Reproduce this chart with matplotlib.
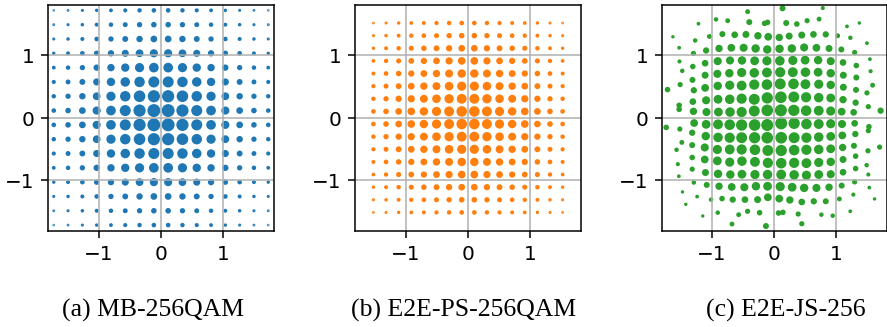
import numpy as np
import matplotlib
matplotlib.use('Agg')  # no GUI window
import matplotlib.pyplot as plt

# (a) MB-256QAM: 16 amplitude levels per axis, dot weight per level
mb_levels = [-1.7175, -1.4885, -1.2595, -1.0305, -0.8015, -0.5725, -0.3435, -0.1145,
             0.1145, 0.3435, 0.5725, 0.8015, 1.0305, 1.2595, 1.4885, 1.7175]
mb_weight = [0.06, 0.11, 0.19, 0.32, 0.50, 0.69, 0.88, 1.0,
             1.0, 0.88, 0.69, 0.50, 0.32, 0.19, 0.11, 0.06]

# (b) E2E-PS-256QAM
ps_levels = [-1.515, -1.313, -1.111, -0.909, -0.707, -0.505, -0.303, -0.101,
             0.101, 0.303, 0.505, 0.707, 0.909, 1.111, 1.313, 1.515]
ps_weight = [0.10, 0.18, 0.30, 0.44, 0.57, 0.70, 0.85, 1.0,
             1.0, 0.85, 0.70, 0.57, 0.44, 0.30, 0.18, 0.10]

# (c) E2E-JS-256: learned points (x, y) and dot size, quadrant by quadrant, row by row
js_x = [
    # upper left
    -1.300, -1.090, -0.898, -0.711, -0.524, -0.321, -0.112,
    -1.530, -1.530, -1.310, -1.096, -0.904, -0.716, -0.524, -0.321, -0.112,
    -1.717, -1.514, -1.294, -1.112, -0.909, -0.716, -0.524, -0.321, -0.117,
    -1.480, -1.316, -1.112, -0.915, -0.722, -0.524, -0.321, -0.117,
    -1.525, -1.310, -1.112, -0.909, -0.711, -0.519, -0.315, -0.117,
    -1.530, -1.300, -1.096, -0.888, -0.690, -0.492, -0.299, -0.112,
    -1.631, -1.272, -1.043, -0.834, -0.636, -0.455, -0.262, -0.096,
    -1.219, -0.936, -0.749, -0.401, -0.155, -0.107,
    -0.428,
    # upper right
    0.108, 0.316, 0.514, 0.717, 0.910, 1.086, 1.279, 1.713,
    0.108, 0.316, 0.514, 0.717, 0.910, 1.108, 1.311, 1.515,
    0.097, 0.311, 0.503, 0.717, 0.910, 1.113, 1.317, 1.493,
    0.097, 0.300, 0.503, 0.707, 0.910, 1.113, 1.322, 1.584,
    0.091, 0.300, 0.498, 0.707, 0.910, 1.108, 1.322, 1.552,
    0.086, 0.284, 0.482, 0.680, 0.883, 1.081, 1.295, 1.541,
    0.081, 0.241, 0.444, 0.632, 0.830, 1.022, 1.226, 1.493,
    0.193, 0.364, 0.530, 0.723, 1.172, 1.370,
    0.134, 0.782,
    # lower left
    -1.738, -1.519, -1.289, -1.096, -0.904, -0.716, -0.524, -0.315, -0.112,
    -1.487, -1.320, -1.102, -0.904, -0.716, -0.524, -0.315, -0.112,
    -1.572, -1.320, -1.118, -0.915, -0.716, -0.524, -0.310, -0.102,
    -1.551, -1.320, -1.118, -0.915, -0.716, -0.519, -0.310, -0.102,
    -1.535, -1.320, -1.107, -0.904, -0.706, -0.519, -0.310, -0.107,
    -1.476, -1.294, -1.086, -0.888, -0.684, -0.481, -0.294, -0.107,
    -1.423, -1.241, -1.016, -0.840, -0.668, -0.471, -0.267, -0.102,
    -1.150, -0.909, -0.572, -0.428, -0.235,
    -0.679, -0.133,
    # lower right
    0.113, 0.321, 0.519, 0.717, 0.910, 1.092, 1.295, 1.525, 1.515,
    0.113, 0.321, 0.519, 0.717, 0.910, 1.097, 1.306,
    0.113, 0.321, 0.519, 0.717, 0.910, 1.102, 1.284, 1.509, 1.697,
    0.113, 0.321, 0.519, 0.717, 0.910, 1.108, 1.311, 1.488,
    0.113, 0.321, 0.519, 0.717, 0.910, 1.108, 1.311, 1.515,
    0.097, 0.289, 0.482, 0.680, 0.883, 1.086, 1.295, 1.531,
    0.081, 0.252, 0.444, 0.637, 0.830, 1.049, 1.274, 1.616,
    0.070, 0.140, 0.386, 0.760, 0.942, 1.225,
    0.444,
]
js_y = [
    # upper left
    0.102, 0.091, 0.091, 0.091, 0.091, 0.107, 0.118,
    0.198, 0.134, 0.257, 0.279, 0.295, 0.295, 0.305, 0.295, 0.317,
    0.450, 0.530, 0.439, 0.477, 0.509, 0.520, 0.514, 0.530, 0.530,
    0.750, 0.605, 0.680, 0.702, 0.712, 0.723, 0.718, 0.723,
    0.900, 0.819, 0.872, 0.905, 0.916, 0.916, 0.910, 0.910,
    1.119, 1.028, 1.076, 1.108, 1.119, 1.119, 1.108, 1.092,
    1.295, 1.236, 1.300, 1.338, 1.327, 1.332, 1.311, 1.295,
    1.504, 1.573, 1.552, 1.530, 1.509, 1.525,
    1.697,
    # upper right
    0.118, 0.118, 0.113, 0.113, 0.107, 0.097, 0.086, 0.113,
    0.327, 0.332, 0.327, 0.321, 0.316, 0.289, 0.241, 0.177,
    0.541, 0.541, 0.536, 0.536, 0.525, 0.488, 0.445, 0.397,
    0.728, 0.728, 0.728, 0.728, 0.712, 0.680, 0.643, 0.520,
    0.910, 0.916, 0.921, 0.921, 0.905, 0.884, 0.835, 0.744,
    1.103, 1.108, 1.124, 1.119, 1.108, 1.092, 1.044, 0.937,
    1.284, 1.306, 1.322, 1.333, 1.333, 1.311, 1.279, 1.193,
    1.515, 1.499, 1.552, 1.578, 1.461, 1.515,
    1.750, 1.755,
    # lower left
    -0.155, -0.181, -0.085, -0.106, -0.106, -0.112, -0.117, -0.117, -0.117,
    -0.395, -0.240, -0.294, -0.315, -0.320, -0.320, -0.320, -0.320,
    -0.513, -0.438, -0.476, -0.508, -0.508, -0.508, -0.513, -0.524,
    -0.743, -0.636, -0.668, -0.690, -0.711, -0.695, -0.706, -0.722,
    -0.936, -0.823, -0.877, -0.898, -0.909, -0.904, -0.909, -0.909,
    -1.187, -1.037, -1.075, -1.096, -1.107, -1.112, -1.096, -1.096,
    -1.385, -1.262, -1.310, -1.294, -1.310, -1.310, -1.310, -1.273,
    -1.572, -1.519, -1.551, -1.497, -1.519,
    -1.701, -1.733,
    # lower right
    -0.090, -0.090, -0.101, -0.101, -0.096, -0.101, -0.090, -0.144, -0.208,
    -0.320, -0.320, -0.320, -0.310, -0.299, -0.283, -0.261,
    -0.524, -0.518, -0.513, -0.508, -0.497, -0.476, -0.449, -0.529, -0.470,
    -0.727, -0.722, -0.727, -0.716, -0.706, -0.668, -0.615, -0.759,
    -0.909, -0.914, -0.920, -0.909, -0.904, -0.872, -0.813, -0.909,
    -1.102, -1.112, -1.123, -1.123, -1.112, -1.086, -1.027, -1.118,
    -1.294, -1.316, -1.348, -1.337, -1.337, -1.299, -1.230, -1.299,
    -1.524, -1.514, -1.541, -1.551, -1.567, -1.497,
    -1.696,
]
js_size = [
    # upper left
    7.2, 9.2, 11.4, 13.9, 16.6, 19.6, 22.8,
    3.2, 3.2, 5.4, 9.2, 11.4, 13.9, 16.6, 19.6, 21.2,
    3.2, 2.6, 4.6, 8.2, 10.2, 12.7, 15.2, 16.6, 18.1,
    1.6, 4.0, 6.2, 9.2, 10.2, 12.7, 13.9, 15.2,
    1.2, 3.2, 5.4, 9.2, 9.2, 10.2, 11.4, 12.7,
    0.85, 2.6, 4.6, 7.2, 8.2, 9.2, 10.2, 10.2,
    0.56, 1.6, 2.1, 4.0, 5.4, 6.2, 7.2, 8.2,
    0.85, 1.6, 2.1, 4.0, 3.2, 3.2,
    2.1,
    # upper right
    24.5, 21.2, 18.1, 15.2, 12.7, 8.2, 5.4, 4.6,
    22.8, 19.6, 16.6, 13.9, 11.4, 7.2, 4.6, 2.6,
    19.6, 18.1, 15.2, 12.7, 10.2, 6.2, 4.0, 2.6,
    16.6, 15.2, 13.9, 11.4, 10.2, 6.2, 4.0, 2.1,
    13.9, 12.7, 11.4, 10.2, 9.2, 5.4, 3.2, 1.2,
    10.2, 10.2, 9.2, 8.2, 6.2, 4.0, 2.6, 0.85,
    7.2, 6.2, 6.2, 5.4, 4.6, 2.1, 1.6, 0.85,
    4.0, 3.2, 2.6, 2.1, 0.85, 0.56,
    4.0, 1.2,
    # lower left
    3.2, 2.6, 8.2, 11.4, 15.2, 18.1, 21.2, 22.8, 24.5,
    2.1, 4.6, 10.2, 13.9, 16.6, 19.6, 21.2, 22.8,
    1.6, 4.0, 9.2, 12.7, 15.2, 16.6, 18.1, 19.6,
    1.2, 3.2, 8.2, 11.4, 12.7, 13.9, 15.2, 16.6,
    0.85, 2.6, 6.2, 10.2, 10.2, 11.4, 12.7, 13.9,
    0.56, 1.6, 4.0, 7.2, 8.2, 9.2, 10.2, 11.4,
    0.56, 0.85, 1.6, 3.2, 4.6, 5.4, 6.2, 8.2,
    0.56, 1.6, 2.1, 2.6, 3.2,
    2.1, 4.0,
    # lower right
    24.5, 21.2, 18.1, 15.2, 12.7, 9.2, 5.4, 3.2, 2.6,
    22.8, 19.6, 16.6, 13.9, 11.4, 8.2, 4.6,
    21.2, 18.1, 16.6, 13.9, 11.4, 7.2, 4.0, 2.6, 2.6,
    18.1, 16.6, 15.2, 12.7, 10.2, 6.2, 3.2, 1.6,
    15.2, 13.9, 12.7, 11.4, 9.2, 5.4, 3.2, 1.2,
    12.7, 11.4, 10.2, 9.2, 7.2, 4.0, 2.6, 0.85,
    8.2, 7.2, 5.4, 4.6, 4.0, 2.1, 1.2, 0.56,
    3.2, 3.2, 2.6, 1.6, 1.6, 0.85,
    2.6,
]

captions = ['(a) MB-256QAM', '(b) E2E-PS-256QAM', '(c) E2E-JS-256']
ticks = [-1, 0, 1]

size_scale = 1.15  # dot area per unit weight, same for all panels

# grids for the two square constellations, dot area = product of the axis weights
mb_X, mb_Y = np.meshgrid(mb_levels, mb_levels)
mb_S = np.outer(mb_weight, mb_weight) * 29.0 * size_scale
ps_X, ps_Y = np.meshgrid(ps_levels, ps_levels)
ps_S = np.outer(ps_weight, ps_weight) * 18.0 * size_scale

fig = plt.figure(figsize=(6.475, 2.39), dpi=137)
ax_a = fig.add_axes([0.0541, 0.2936, 0.2548, 0.6911])
ax_b = fig.add_axes([0.4002, 0.2936, 0.2548, 0.6911])
ax_c = fig.add_axes([0.7460, 0.2936, 0.2535, 0.6911])

ax_a.scatter(mb_X.ravel(), mb_Y.ravel(), s=mb_S.ravel(), color='tab:blue', linewidths=1.0)
ax_b.scatter(ps_X.ravel(), ps_Y.ravel(), s=ps_S.ravel(), color='tab:orange', linewidths=1.0)
ax_c.scatter(js_x, js_y, s=np.array(js_size) * size_scale, color='tab:green', linewidths=1.0)

for ax in (ax_a, ax_b, ax_c):
    ax.set_xlim(-1.81, 1.81)
    ax.set_ylim(-1.81, 1.81)
    ax.set_xticks(ticks)
    ax.set_yticks(ticks)
    ax.tick_params(labelsize=10.5)
    ax.grid(True)

# subfigure captions (LaTeX style, serif)
cap_x = [0.1725, 0.523, 0.886]
for x, txt in zip(cap_x, captions):
    fig.text(x, 0.034, txt, ha='center', va='baseline',
             fontfamily='Liberation Serif', fontsize=13.5)

fig.savefig('out.png', dpi=137)
